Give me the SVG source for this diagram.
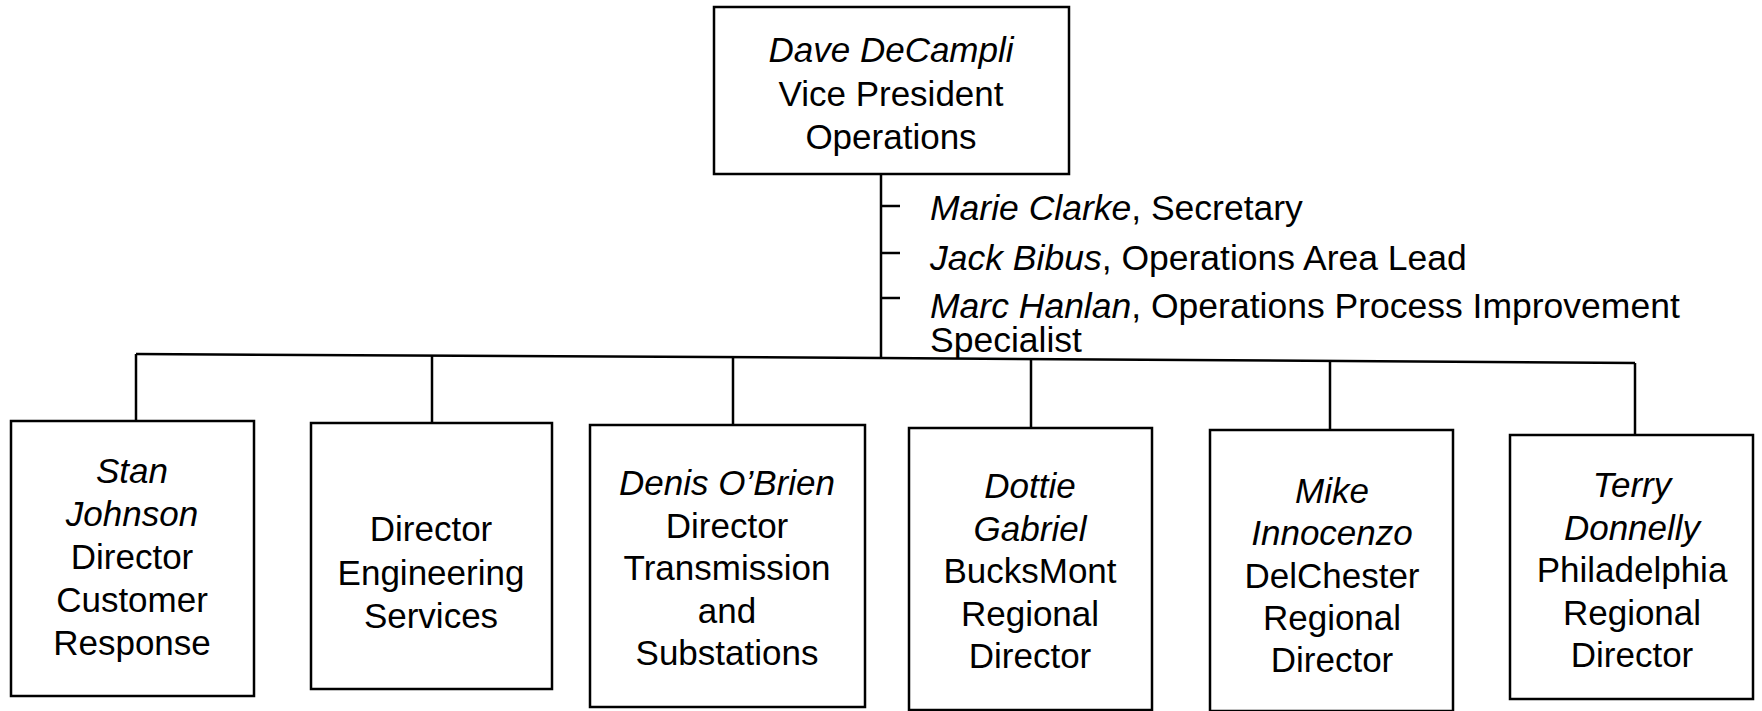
<svg xmlns="http://www.w3.org/2000/svg" width="1762" height="711" viewBox="0 0 1762 711">
<style>
.box{fill:#fff;stroke:#000;stroke-width:2.5}
.ln{stroke:#000;stroke-width:2.5;fill:none}
text{font-family:"Liberation Sans",Arial,sans-serif;font-size:35px;fill:#000}
.side{font-size:35.5px}
.c{text-anchor:middle}
.i{font-style:italic}
</style>
<rect width="1762" height="711" fill="#fff"/>
<g id="connectors">
<line class="ln" x1="881" y1="174" x2="881" y2="358"/>
<line class="ln" x1="881" y1="206" x2="900" y2="206"/>
<line class="ln" x1="881" y1="253" x2="900" y2="253"/>
<line class="ln" x1="881" y1="298" x2="900" y2="298"/>
<polyline class="ln" points="136,354 881,358 1635,363"/>
<line class="ln" x1="136" y1="354" x2="136" y2="421"/>
<line class="ln" x1="432" y1="355" x2="432" y2="423"/>
<line class="ln" x1="733" y1="357" x2="733" y2="425"/>
<line class="ln" x1="1031" y1="359" x2="1031" y2="428"/>
<line class="ln" x1="1330" y1="361" x2="1330" y2="430"/>
<line class="ln" x1="1635" y1="363" x2="1635" y2="435"/>
</g>
<g id="side-list">
<text class="side" x="930" y="220"><tspan class="i">Marie Clarke</tspan>, Secretary</text>
<text class="side" x="930" y="270"><tspan class="i">Jack Bibus</tspan>, Operations Area Lead</text>
<text class="side" x="930" y="318"><tspan class="i">Marc Hanlan</tspan>, Operations Process Improvement</text>
<text class="side" x="930" y="352">Specialist</text>
</g>
<g id="vp">
<rect class="box" x="714" y="7" width="355" height="167"/>
<text class="c i" x="891" y="62">Dave DeCampli</text>
<text class="c" x="891" y="106">Vice President</text>
<text class="c" x="891" y="149">Operations</text>
</g>
<g id="stan">
<rect class="box" x="11" y="421" width="243" height="275"/>
<text class="c i" x="132" y="483">Stan</text>
<text class="c i" x="132" y="526">Johnson</text>
<text class="c" x="132" y="569">Director</text>
<text class="c" x="132" y="612">Customer</text>
<text class="c" x="132" y="655">Response</text>
</g>
<g id="engineering">
<rect class="box" x="311" y="423" width="241" height="266"/>
<text class="c" x="431" y="541">Director</text>
<text class="c" x="431" y="585">Engineering</text>
<text class="c" x="431" y="628">Services</text>
</g>
<g id="denis">
<rect class="box" x="590" y="425" width="275" height="282"/>
<text class="c i" x="727" y="495">Denis O’Brien</text>
<text class="c" x="727" y="538">Director</text>
<text class="c" x="727" y="580">Transmission</text>
<text class="c" x="727" y="623">and</text>
<text class="c" x="727" y="665">Substations</text>
</g>
<g id="dottie">
<rect class="box" x="909" y="428" width="243" height="282"/>
<text class="c i" x="1030" y="498">Dottie</text>
<text class="c i" x="1030" y="541">Gabriel</text>
<text class="c" x="1030" y="583">BucksMont</text>
<text class="c" x="1030" y="626">Regional</text>
<text class="c" x="1030" y="668">Director</text>
</g>
<g id="mike">
<rect class="box" x="1210" y="430" width="243" height="281"/>
<text class="c i" x="1332" y="503">Mike</text>
<text class="c i" x="1332" y="545">Innocenzo</text>
<text class="c" x="1332" y="588">DelChester</text>
<text class="c" x="1332" y="630">Regional</text>
<text class="c" x="1332" y="672">Director</text>
</g>
<g id="terry">
<rect class="box" x="1510" y="435" width="243" height="264"/>
<text class="c i" x="1632" y="497">Terry</text>
<text class="c i" x="1632" y="540">Donnelly</text>
<text class="c" x="1632" y="582">Philadelphia</text>
<text class="c" x="1632" y="625">Regional</text>
<text class="c" x="1632" y="667">Director</text>
</g>
</svg>
